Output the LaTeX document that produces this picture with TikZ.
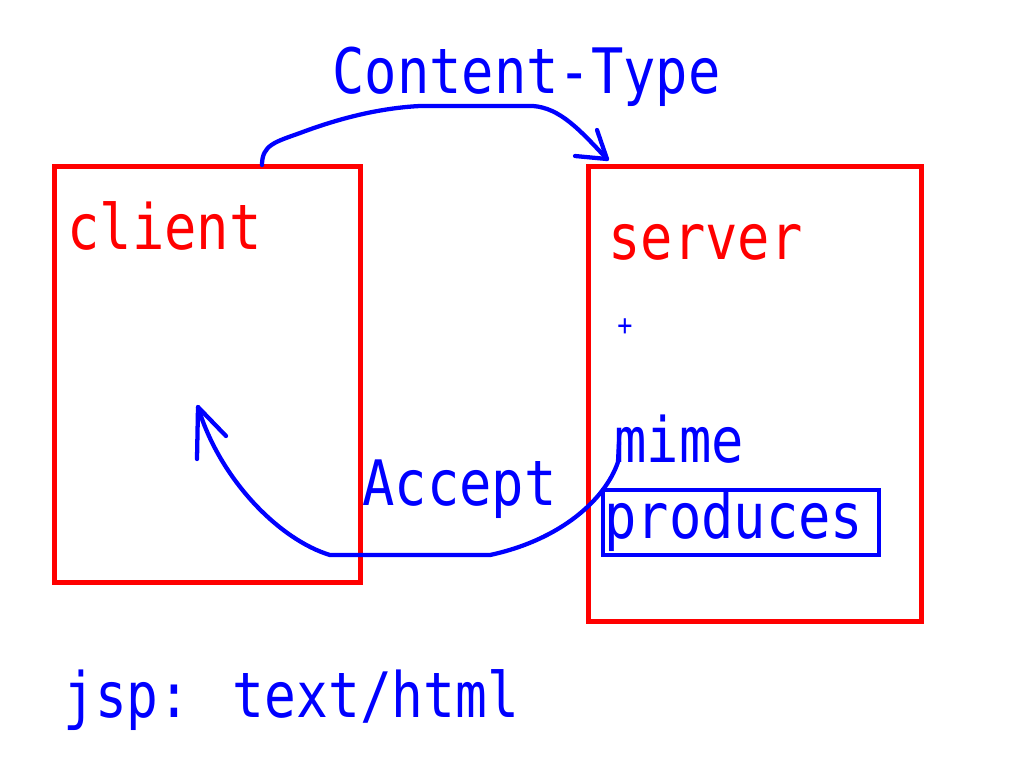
\documentclass[tikz,border=0pt]{standalone}
\usepackage{fontspec}
\newfontfamily\handmono[FakeStretch=0.858]{DejaVu Sans Mono}
\newfontfamily\handmonob[FakeStretch=0.843]{DejaVu Sans Mono}
\definecolor{pred}{RGB}{255,0,0}
\definecolor{pblue}{RGB}{0,0,255}
\tikzset{
  lbl/.style={anchor=base west, inner sep=0pt, font=\handmono\fontsize{47pt}{47pt}\selectfont},
  redlbl/.style={lbl, text=pred},
  bluelbl/.style={lbl, text=pblue},
  redbox/.style={draw=pred, line width=3.75pt},
  bluebox/.style={draw=pblue, line width=3.3pt},
  stroke/.style={draw=pblue, line width=3.2pt, line cap=round, line join=round},
}
\begin{document}
\begin{tikzpicture}[x=0.75pt, y=-0.75pt]
\useasboundingbox (0,0) rectangle (1024,768);
% boxes
\draw[redbox] (54.5,166.5) rectangle (360.5,582.5);
\draw[redbox] (588.5,166.5) rectangle (921.5,621.5);
% labels
\node[bluelbl] (ct) at (332,93) {Content-Type};
\node[redlbl] (client) at (67,249) {client};
\node[redlbl] (server) at (608,259) {server};
\node[bluelbl] (mime) at (614,462) {mime};
\node[bluelbl] (acc) at (362,505) {Accept};
\node[bluelbl, font=\handmonob\fontsize{47pt}{47pt}\selectfont] (jsp) at (63,717) {jsp: text/html};
\node[anchor=base west, inner sep=0pt, text=pblue, font=\handmono\fontsize{22pt}{22pt}\selectfont] (plus) at (617,335) {+};
% produces box
\node[bluelbl] (prod) at (604,538) {produces};
\draw[bluebox] (603,490) rectangle (879,555);
% top arrow
\coordinate (s1) at (262,165);
\coordinate (t1) at (607,159);
\coordinate (b1a) at (575,156);
\coordinate (b1b) at (597,130);
\draw[stroke] (s1) .. controls (262,145) and (275,142) .. (300,133)
  .. controls (340,118) and (380,108) .. (420,106) -- (533,106)
  .. controls (560,108) and (580,130) .. (t1);
\draw[stroke] (b1a) -- (t1) -- (b1b);
% bottom arrow
\coordinate (s2) at (619,442);
\coordinate (t2) at (198,407);
\coordinate (b2a) at (197,459);
\coordinate (b2b) at (226,436);
\draw[stroke] (s2) -- (618,462) .. controls (605,500) and (560,540) .. (490,555)
  -- (330,555) .. controls (280,540) and (220,480) .. (t2);
\draw[stroke] (b2a) -- (t2) -- (b2b);
\end{tikzpicture}
\end{document}
